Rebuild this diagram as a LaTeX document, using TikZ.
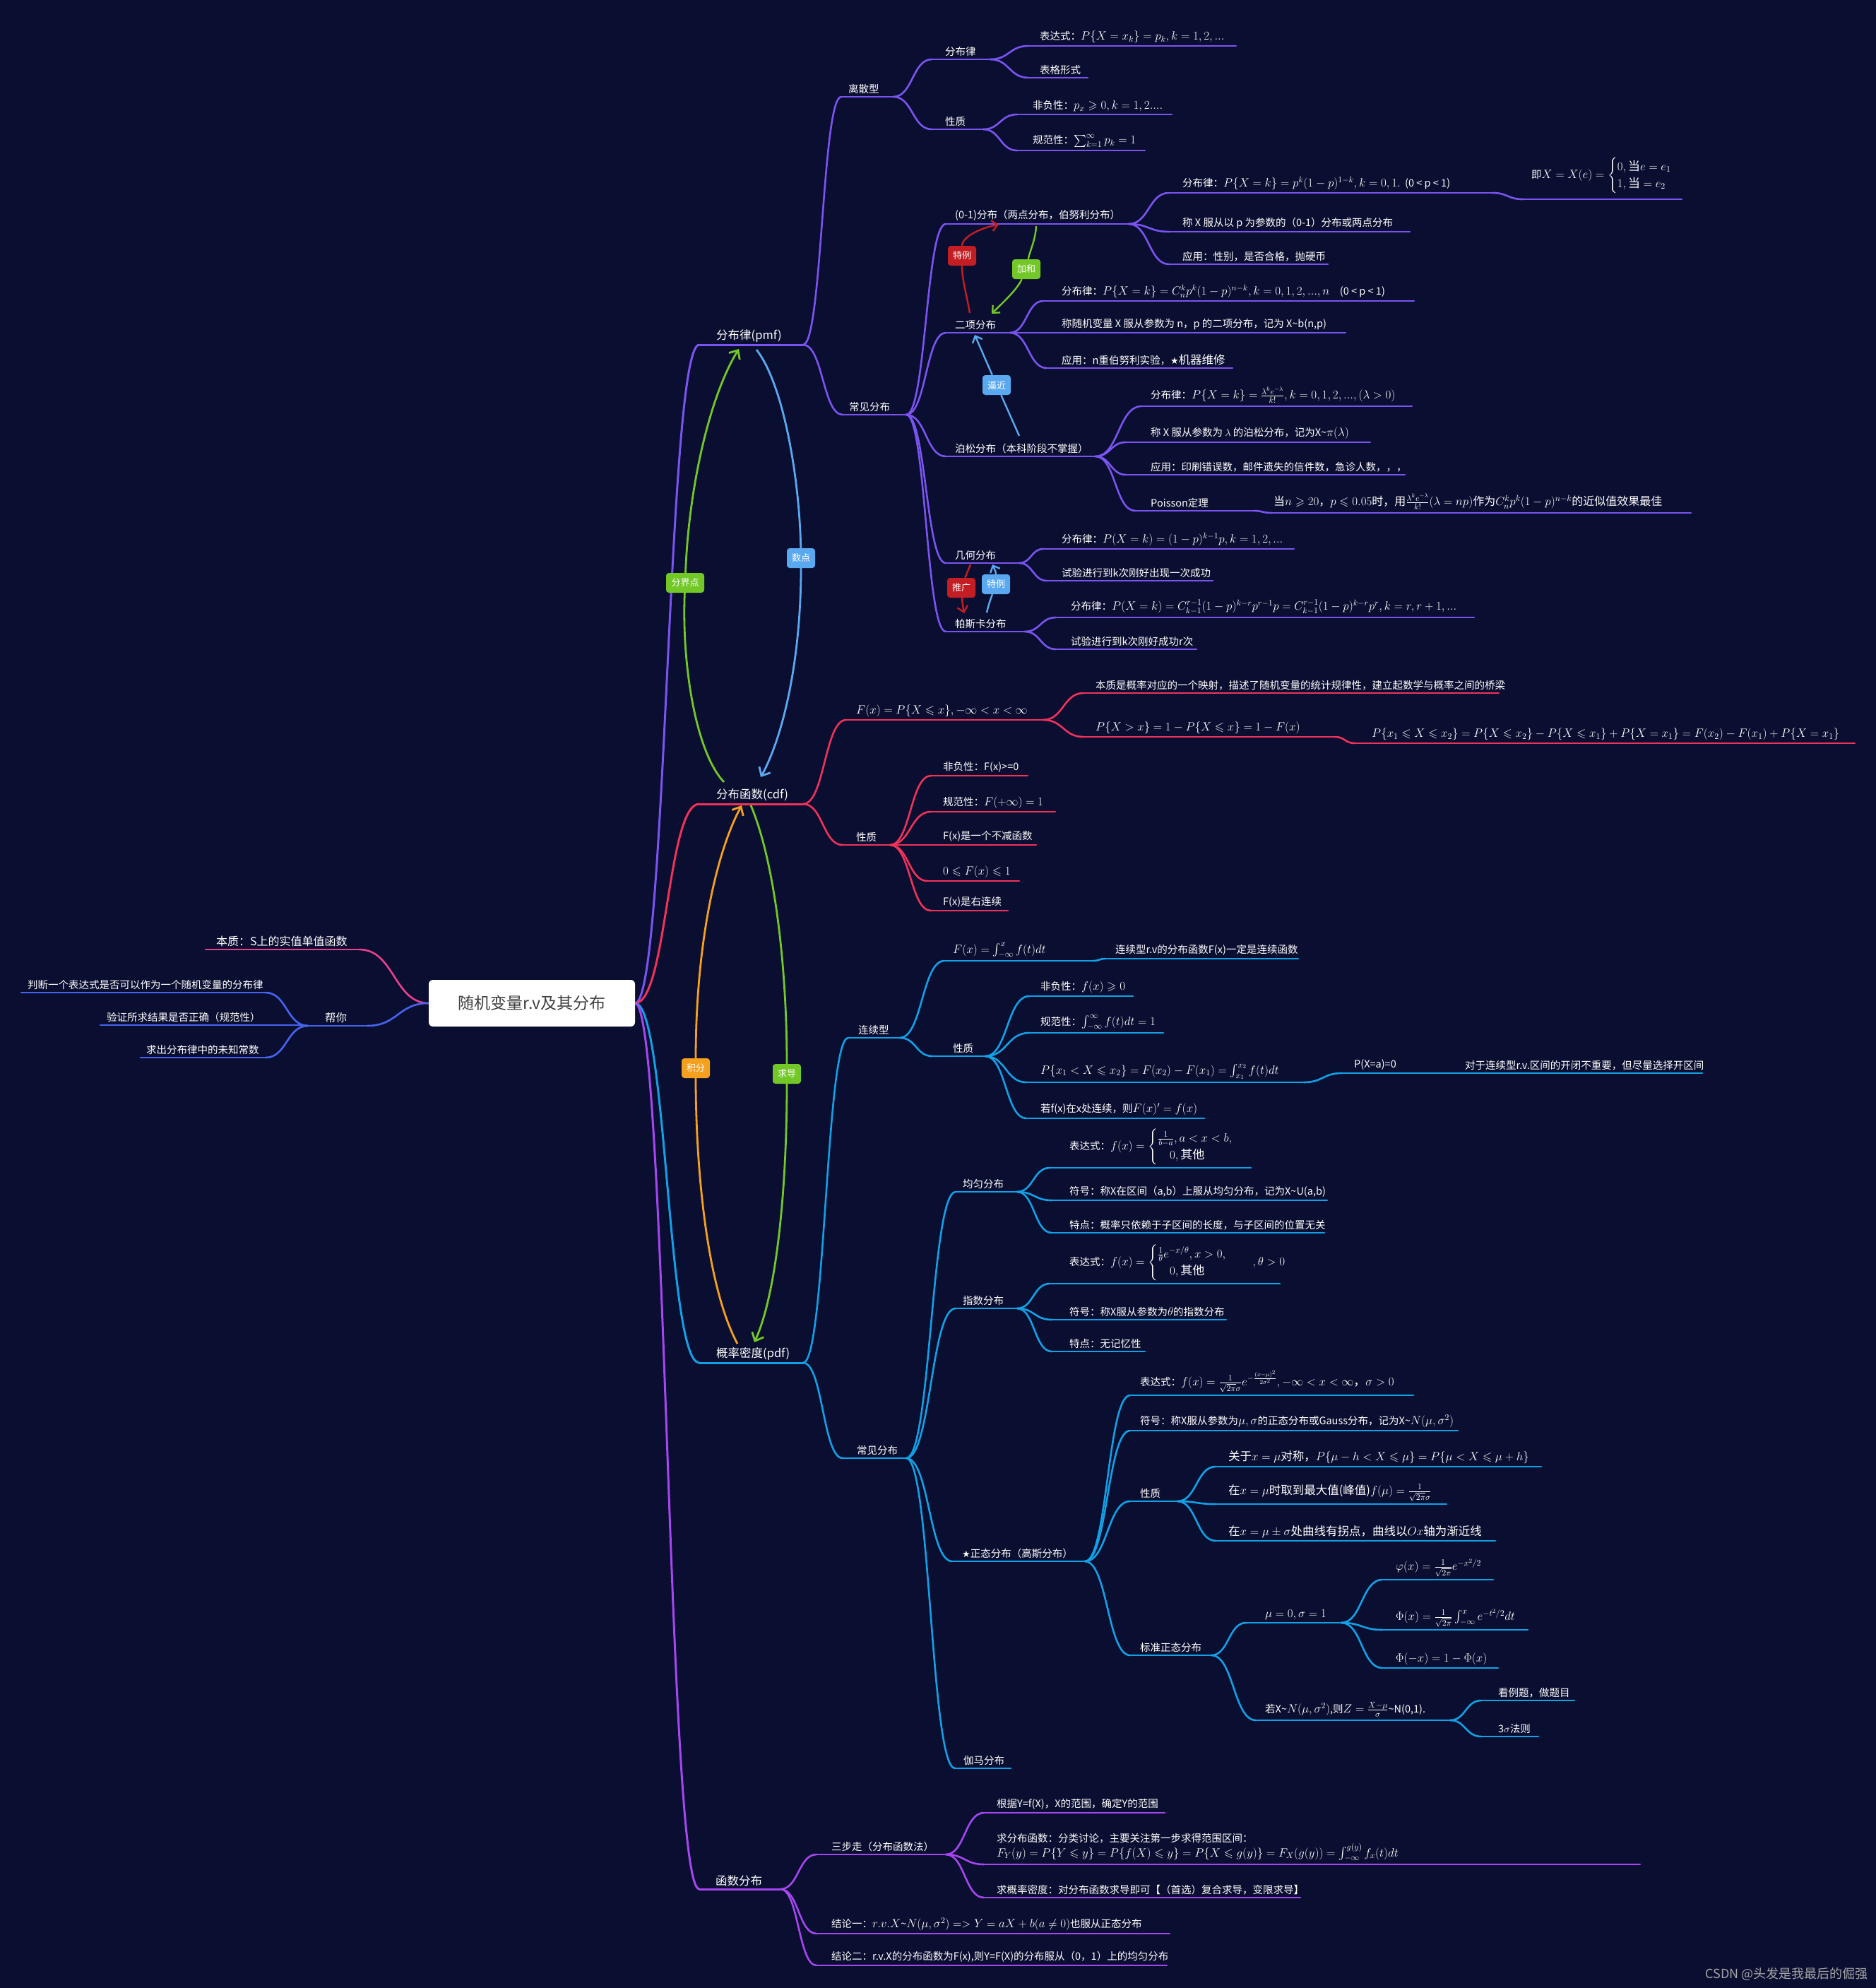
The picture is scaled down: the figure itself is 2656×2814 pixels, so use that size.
\RequirePackage{fix-cm}
\documentclass[tikz,border=0pt]{standalone}
\usepackage[no-math]{fontspec}
\setmainfont{Noto Sans CJK SC}
\newfontfamily\dejavu{DejaVu Sans}
\usepackage{amsmath,amssymb}
\usetikzlibrary{calc,arrows.meta}
\definecolor{bg}{RGB}{10,14,48}
\definecolor{cP}{RGB}{122,84,240}
\definecolor{cR}{RGB}{240,50,90}
\definecolor{cB}{RGB}{18,160,230}
\definecolor{cF}{RGB}{165,70,240}
\definecolor{cK}{RGB}{232,64,140}
\definecolor{cL}{RGB}{70,100,240}
\definecolor{tRed}{RGB}{195,30,35}
\definecolor{tGreen}{RGB}{115,200,40}
\definecolor{tBlue}{RGB}{90,168,240}
\definecolor{tOrange}{RGB}{245,160,30}
\newcommand\mth[1]{{\fontsize{17}{20}\selectfont$#1$}}
\newcommand\tld{\textasciitilde}
\newcommand\mnode[8][]{%
  \draw[ul=#6] (#3,#5) coordinate (#2-s) -- (#4,#5) coordinate (#2-e);
  \node[txt,#1] (#2) at (#7,#5-4) {#8};
}
\newcommand\brc[3]{\draw[#1] let \p1=(#2), \p2=(#3), \n1={0.5*(\x2-\x1)}, \n2={-0.5*(\x2-\x1)} in (\p1) .. controls +(\n1,0) and +(\n2,0) .. (\p2);}
\begin{document}
\begin{tikzpicture}[x=1pt,y=-1pt,
  ul/.style={draw=#1,line width=2.6pt,line cap=round},
  txt/.style={anchor=south west,inner sep=0pt,text=white,font=\fontsize{14.5}{17.5}\selectfont},
  mainf/.style={font=\fontsize{16.5}{19}\selectfont},
  tag/.style={fill=#1,rounded corners=4pt,text=white,font=\fontsize{13}{15}\selectfont,minimum height=28pt,minimum width=40pt,inner xsep=5pt,inner ysep=0pt},
  xl/.style={draw=#1,line width=2.4pt},
  xla/.style={draw=#1,line width=2.4pt,-{Straight Barb[length=8pt,width=15pt]}},
  xlb/.style={draw=#1,line width=2.8pt,-{Straight Barb[length=10pt,width=18pt]}},
]
\useasboundingbox (0,0) rectangle (2656,2814);
\fill[bg] (0,0) rectangle (2656,2814);
\coordinate (rootR) at (899,1420);
\coordinate (rootL) at (607,1420);

% ---------- left ----------
\mnode[font=\fontsize{16}{19}\selectfont]{bz0}{291}{509}{1344}{cK}{306}{本质：S上的实值单值函数}
\mnode[font=\fontsize{15.5}{18}\selectfont]{bn}{436}{520}{1452}{cL}{460}{帮你}
\mnode{pd}{30}{376}{1405}{cL}{39}{判断一个表达式是否可以作为一个随机变量的分布律}
\mnode{yz}{142}{424}{1451}{cL}{151}{验证所求结果是否正确（规范性）}
\mnode{qc}{199}{376}{1497}{cL}{207}{求出分布律中的未知常数}
\brc{ul=cK}{rootL}{bz0-e}
\brc{ul=cL}{rootL}{bn-e}
\brc{ul=cL}{bn-s}{pd-e}
\brc{ul=cL}{bn-s}{yz-e}
\brc{ul=cL}{bn-s}{qc-e}

% ---------- pmf ----------
\mnode[mainf]{pmf}{990}{1137}{488}{cP,line width=3pt}{1014}{分布律(pmf)}
\brc{ul=cP,line width=3pt}{rootR}{pmf-s}
\mnode{lsx}{1191}{1265}{137}{cP}{1201}{离散型}
\mnode{fbl}{1319}{1402}{84}{cP}{1338}{分布律}
\mnode{xz1}{1319}{1392}{183}{cP}{1338}{性质}
\mnode{bds}{1456}{1750}{65}{cP}{1472}{表达式：\mth{P\{X=x_k\}=p_k,k=1,2,...}}
\mnode{bgxs}{1456}{1540}{110}{cP}{1472}{表格形式}
\mnode{ffx1}{1440}{1659}{162}{cP}{1462}{非负性：\mth{p_x\geqslant 0,k=1,2....}}
\mnode{gfx1}{1440}{1621}{213}{cP}{1462}{规范性：\mth{\sum_{k=1}^{\infty}p_k=1}}
\brc{ul=cP}{pmf-e}{lsx-s}
\brc{ul=cP}{lsx-e}{fbl-s}
\brc{ul=cP}{lsx-e}{xz1-s}
\brc{ul=cP}{fbl-e}{bds-s}
\brc{ul=cP}{fbl-e}{bgxs-s}
\brc{ul=cP}{xz1-e}{ffx1-s}
\brc{ul=cP}{xz1-e}{gfx1-s}

\mnode{cjfb}{1193}{1283}{587}{cP}{1202}{常见分布}
\brc{ul=cP}{pmf-e}{cjfb-s}
\mnode{b01}{1339}{1598}{317}{cP}{1352}{(0-1)分布（两点分布，伯努利分布）}
\mnode{ex}{1339}{1430}{471}{cP}{1352}{二项分布}
\mnode{ps}{1339}{1551}{646}{cP}{1352}{泊松分布（本科阶段不掌握）}
\mnode{jh}{1339}{1443}{797}{cP}{1352}{几何分布}
\mnode{pk}{1339}{1451}{894}{cP}{1352}{帕斯卡分布}
\brc{ul=cP}{cjfb-e}{b01-s}
\brc{ul=cP}{cjfb-e}{ex-s}
\brc{ul=cP}{cjfb-e}{ps-s}
\brc{ul=cP}{cjfb-e}{jh-s}
\brc{ul=cP}{cjfb-e}{pk-s}

\mnode{b01a}{1655}{2113}{273}{cP}{1674}{分布律：\mth{P\{X=k\}=p^k(1-p)^{1-k},k=0,1.}\ \ (0 < p < 1)}
\mnode[yshift=4pt]{b01a2}{2156}{2381}{282}{cP}{2168}{即\mth{X=X(e)=\begin{cases}0,\text{当}e=e_1\\1,\text{当}=e_2\end{cases}}}
\mnode{b01b}{1655}{1996}{328}{cP}{1674}{称 X 服从以 p 为参数的（0-1）分布或两点分布}
\mnode{b01c}{1655}{1880}{374}{cP}{1674}{应用：性别，是否合格，抛硬币}
\brc{ul=cP}{b01-e}{b01a-s}
\brc{ul=cP}{b01a-e}{b01a2-s}
\brc{ul=cP}{b01-e}{b01b-s}
\brc{ul=cP}{b01-e}{b01c-s}

\mnode{exa}{1477}{2002}{426}{cP}{1503}{分布律：\mth{P\{X=k\}=C_n^kp^k(1-p)^{n-k},k=0,1,2,...,n}\quad (0 < p < 1)}
\mnode{exb}{1430}{1905}{471}{cP}{1503}{称随机变量 X 服从参数为 n，p 的二项分布，记为 X\tld b(n,p)}
\mnode{exc}{1482}{1745}{521}{cP}{1503}{应用：n重伯努利实验，{\dejavu\fontsize{13}{15}\selectfont ★}{\fontsize{16.5}{19}\selectfont 机器维修}}
\brc{ul=cP}{ex-e}{exa-s}
\brc{ul=cP}{ex-e}{exc-s}

\mnode{psa}{1616}{1999}{575}{cP}{1629}{分布律：\mth{P\{X=k\}=\frac{\lambda^ke^{-\lambda}}{k!},k=0,1,2,...,(\lambda>0)}}
\mnode{psb}{1594}{1940}{626}{cP}{1629}{称 X 服从参数为 $\lambda$ 的泊松分布，记为X\tld\mth{\pi(\lambda)}}
\mnode{psc}{1594}{1989}{672}{cP}{1629}{应用：印刷错误数，邮件遗失的信件数，急诊人数，，，}
\mnode{psd}{1607}{1775}{723}{cP}{1629}{Poisson定理}
\mnode[font=\fontsize{16}{19}\selectfont]{psd2}{1800}{2394}{726}{cP}{1803}{当\mth{n\geqslant 20}，\mth{p\leqslant 0.05}时，用\mth{\frac{\lambda^ke^{-\lambda}}{k!}(\lambda=np)}作为\mth{C_n^kp^k(1-p)^{n-k}}的近似值效果最佳}
\brc{ul=cP}{ps-e}{psa-s}
\brc{ul=cP}{ps-e}{psb-s}
\brc{ul=cP}{ps-e}{psc-s}
\brc{ul=cP}{ps-e}{psd-s}
\brc{ul=cP}{psd-e}{psd2-s}

\mnode{jha}{1477}{1832}{777}{cP}{1503}{分布律：\mth{P(X=k)=(1-p)^{k-1}p,k=1,2,...}}
\mnode{jhb}{1482}{1717}{822}{cP}{1503}{试验进行到k次刚好出现一次成功}
\brc{ul=cP}{jh-e}{jha-s}
\brc{ul=cP}{jh-e}{jhb-s}
\mnode{pka}{1495}{2087}{874}{cP}{1516}{分布律：\mth{P(X=k)=C_{k-1}^{r-1}(1-p)^{k-r}p^{r-1}p=C_{k-1}^{r-1}(1-p)^{k-r}p^r,k=r,r+1,...}}
\mnode{pkb}{1495}{1694}{919}{cP}{1516}{试验进行到k次刚好成功r次}
\brc{ul=cP}{pk-e}{pka-s}
\brc{ul=cP}{pk-e}{pkb-s}

% ---------- cdf ----------
\mnode[mainf]{cdf}{990}{1137}{1138}{cR,line width=3pt}{1014}{分布函数(cdf)}
\brc{ul=cR,line width=3pt}{rootR}{cdf-s}
\mnode{Fx}{1198}{1477}{1019}{cR}{1212}{\mth{F(x)=P\{X\leqslant x\},-\infty<x<\infty}}
\mnode{xz2}{1193}{1260}{1196}{cR}{1212}{性质}
\brc{ul=cR}{cdf-e}{Fx-s}
\brc{ul=cR}{cdf-e}{xz2-s}
\mnode{bz}{1534}{2122}{981}{cR}{1551}{本质是概率对应的一个映射，描述了随机变量的统计规律性，建立起数学与概率之间的桥梁}
\mnode{pgx}{1534}{1890}{1043}{cR}{1551}{\mth{P\{X>x\}=1-P\{X\leqslant x\}=1-F(x)}}
\mnode{pgx2}{1918}{2626}{1052}{cR}{1942}{\mth{P\{x_1\leqslant X\leqslant x_2\}=P\{X\leqslant x_2\}-P\{X\leqslant x_1\}+P\{X=x_1\}=F(x_2)-F(x_1)+P\{X=x_1\}}}
\brc{ul=cR}{Fx-e}{bz-s}
\brc{ul=cR}{Fx-e}{pgx-s}
\brc{ul=cR}{pgx-e}{pgx2-s}
\mnode{ffx2}{1318}{1455}{1098}{cR}{1335}{非负性：F(x)>=0}
\mnode{gfx2}{1318}{1494}{1149}{cR}{1335}{规范性：\mth{F(+\infty)=1}}
\mnode{bj}{1260}{1467}{1196}{cR}{1335}{F(x)是一个不减函数}
\mnode{fw}{1313}{1443}{1247}{cR}{1335}{\mth{0\leqslant F(x)\leqslant 1}}
\mnode{yl}{1318}{1427}{1289}{cR}{1335}{F(x)是右连续}
\brc{ul=cR}{xz2-e}{ffx2-s}
\brc{ul=cR}{xz2-e}{gfx2-s}
\brc{ul=cR}{xz2-e}{fw-s}
\brc{ul=cR}{xz2-e}{yl-s}

% ---------- pdf ----------
\mnode[mainf]{pdf}{990}{1137}{1929}{cB,line width=3pt}{1014}{概率密度(pdf)}
\brc{ul=cB,line width=3pt}{rootR}{pdf-s}
\mnode{lxx}{1201}{1274}{1469}{cB}{1215}{连续型}
\mnode{cj2}{1193}{1283}{2064}{cB}{1213}{常见分布}
\brc{ul=cB}{pdf-e}{lxx-s}
\brc{ul=cB}{pdf-e}{cj2-s}
\mnode{Fint}{1337}{1548}{1360}{cB}{1349}{\mth{F(x)=\int_{-\infty}^{x}f(t)dt}}
\mnode{Fint2}{1565}{1838}{1357}{cB}{1579}{连续型r.v的分布函数F(x)一定是连续函数}
\mnode{xz3}{1320}{1395}{1495}{cB}{1349}{性质}
\brc{ul=cB}{lxx-e}{Fint-s}
\brc{ul=cB}{Fint-e}{Fint2-s}
\brc{ul=cB}{lxx-e}{xz3-s}
\mnode{ffx3}{1457}{1604}{1410}{cB}{1473}{非负性：\mth{f(x)\geqslant 0}}
\mnode{gfx3}{1457}{1647}{1462}{cB}{1473}{规范性：\mth{\int_{-\infty}^{\infty}f(t)dt=1}}
\mnode{pint}{1453}{1846}{1532}{cB}{1473}{\mth{P\{x_1<X\leqslant x_2\}=F(x_2)-F(x_1)=\int_{x_1}^{x_2}f(t)dt}}
\mnode{pxa}{1900}{2060}{1519}{cB}{1917}{P(X=a)=0}
\mnode{pxa2}{2060}{2410}{1519}{cB}{2074}{对于连续型r.v.区间的开闭不重要，但尽量选择开区间}
\mnode{lxd}{1453}{1705}{1583}{cB}{1473}{若f(x)在x处连续，则\mth{F(x)'=f(x)}}
\brc{ul=cB}{xz3-e}{ffx3-s}
\brc{ul=cB}{xz3-e}{gfx3-s}
\brc{ul=cB}{xz3-e}{pint-s}
\brc{ul=cB}{xz3-e}{lxd-s}
\brc{ul=cB}{pint-e}{pxa-s}

\mnode{jy}{1353}{1440}{1687}{cB}{1363}{均匀分布}
\mnode{zs}{1353}{1440}{1852}{cB}{1363}{指数分布}
\mnode{zt}{1348}{1536}{2210}{cB}{1362}{{\dejavu\fontsize{13}{15}\selectfont ★}正态分布（高斯分布）}
\mnode{gm}{1352}{1431}{2503}{cB}{1364}{伽马分布}
\brc{ul=cB}{cj2-e}{jy-s}
\brc{ul=cB}{cj2-e}{zs-s}
\brc{ul=cB}{cj2-e}{zt-s}
\brc{ul=cB}{cj2-e}{gm-s}
\mnode{jya}{1486}{1771}{1653}{cB}{1514}{表达式：\mth{f(x)=\begin{cases}\frac{1}{b-a},a<x<b,\\\quad 0,\text{其他}\end{cases}}}
\mnode{jyb}{1489}{1879}{1699}{cB}{1514}{符号：称X在区间（a,b）上服从均匀分布，记为X\tld U(a,b)}
\mnode{jyc}{1489}{1875}{1745}{cB}{1514}{特点：概率只依赖于子区间的长度，与子区间的位置无关}
\brc{ul=cB}{jy-e}{jya-s}
\brc{ul=cB}{jy-e}{jyb-s}
\brc{ul=cB}{jy-e}{jyc-s}
\mnode{zsa}{1486}{1812}{1817}{cB}{1514}{表达式：\mth{f(x)=\begin{cases}\frac{1}{\theta}e^{-x/\theta},x>0,\\\quad 0,\text{其他}\end{cases}\quad,\theta>0}}
\mnode{zsb}{1489}{1736}{1868}{cB}{1514}{符号：称X服从参数为\mth{\theta}的指数分布}
\mnode{zsc}{1489}{1621}{1913}{cB}{1514}{特点：无记忆性}
\brc{ul=cB}{zs-e}{zsa-s}
\brc{ul=cB}{zs-e}{zsb-s}
\brc{ul=cB}{zs-e}{zsc-s}

\mnode{zta}{1600}{2001}{1975}{cB}{1614}{表达式：\mth{f(x)=\frac{1}{\sqrt{2\pi}\sigma}e^{-\frac{(x-\mu)^2}{2\sigma^2}},-\infty<x<\infty\text{，}\sigma>0}}
\mnode{ztb}{1600}{2064}{2025}{cB}{1614}{符号：称X服从参数为\mth{\mu,\sigma}的正态分布或Gauss分布，记为X\tld\mth{N(\mu,\sigma^2)}}
\mnode{ztc}{1600}{1667}{2125}{cB}{1614}{性质}
\mnode{ztd}{1600}{1715}{2343}{cB}{1614}{标准正态分布}
\brc{ul=cB}{zt-e}{zta-s}
\brc{ul=cB}{zt-e}{ztb-s}
\brc{ul=cB}{zt-e}{ztc-s}
\brc{ul=cB}{zt-e}{ztd-s}
\mnode[font=\fontsize{16.5}{19}\selectfont]{ztc1}{1721}{2182}{2076}{cB}{1739}{关于\mth{x=\mu}对称，\mth{P\{\mu-h<X\leqslant\mu\}=P\{\mu<X\leqslant\mu+h\}}}
\mnode[font=\fontsize{16.5}{19}\selectfont]{ztc2}{1721}{2048}{2129}{cB}{1739}{在\mth{x=\mu}时取到最大值(峰值)\mth{f(\mu)=\frac{1}{\sqrt{2\pi}\sigma}}}
\mnode[font=\fontsize{16.5}{19}\selectfont]{ztc3}{1721}{2117}{2181}{cB}{1739}{在\mth{x=\mu\pm\sigma}处曲线有拐点，曲线以\mth{Ox}轴为渐近线}
\brc{ul=cB}{ztc-e}{ztc1-s}
\brc{ul=cB}{ztc-e}{ztc2-s}
\brc{ul=cB}{ztc-e}{ztc3-s}
\mnode{ztd1}{1764}{1899}{2297}{cB}{1791}{\mth{\mu=0,\sigma=1}}
\mnode{ztd2}{1778}{2053}{2435}{cB}{1791}{若X\tld\mth{N(\mu,\sigma^2)},则\mth{Z=\frac{X-\mu}{\sigma}}\tld N(0,1).}
\brc{ul=cB}{ztd-e}{ztd1-s}
\brc{ul=cB}{ztd-e}{ztd2-s}
\mnode{phi1}{1957}{2114}{2236}{cB}{1976}{\mth{\varphi(x)=\frac{1}{\sqrt{2\pi}}e^{-x^2/2}}}
\mnode{phi2}{1957}{2163}{2307}{cB}{1976}{\mth{\Phi(x)=\frac{1}{\sqrt{2\pi}}\int_{-\infty}^{x}e^{-t^2/2}dt}}
\mnode{phi3}{1957}{2121}{2361}{cB}{1976}{\mth{\Phi(-x)=1-\Phi(x)}}
\brc{ul=cB}{ztd1-e}{phi1-s}
\brc{ul=cB}{ztd1-e}{phi2-s}
\brc{ul=cB}{ztd1-e}{phi3-s}
\mnode{kl}{2097}{2229}{2407}{cB}{2121}{看例题，做题目}
\mnode{sg}{2097}{2178}{2458}{cB}{2121}{3$\sigma$法则}
\brc{ul=cB}{ztd2-e}{kl-s}
\brc{ul=cB}{ztd2-e}{sg-s}

% ---------- function distribution ----------
\mnode[mainf]{hs}{990}{1105}{2674}{cF,line width=3pt}{1013}{函数分布}
\brc{ul=cF,line width=3pt}{rootR}{hs-s}
\mnode{sbz}{1156}{1339}{2625}{cF}{1177}{三步走（分布函数法）}
\mnode{jl1}{1156}{1656}{2737}{cF}{1177}{结论一：\mth{r.v.X}\tld\mth{N(\mu,\sigma^2)=>Y=aX+b(a\neq 0)}也服从正态分布}
\mnode{jl2}{1156}{1652}{2782}{cF}{1177}{结论二：r.v.X的分布函数为F(x),则Y=F(X)的分布服从（0，1）上的均匀分布}
\brc{ul=cF}{hs-e}{sbz-s}
\brc{ul=cF}{hs-e}{jl1-s}
\brc{ul=cF}{hs-e}{jl2-s}
\mnode{sb1}{1393}{1649}{2566}{cF}{1411}{根据Y=f(X)，X的范围，确定Y的范围}
\mnode[align=left]{sb2}{1393}{2322}{2639}{cF}{1411}{求分布函数：分类讨论，主要关注第一步求得范围区间：\\\mth{F_Y(y)=P\{Y\leqslant y\}=P\{f(X)\leqslant y\}=P\{X\leqslant g(y)\}=F_X(g(y))=\int_{-\infty}^{g(y)}f_x(t)dt}}
\mnode{sb3}{1393}{1841}{2686}{cF}{1411}{求概率密度：对分布函数求导即可【（首选）复合求导，变限求导】}
\brc{ul=cF}{sbz-e}{sb1-s}
\brc{ul=cF}{sbz-e}{sb2-s}
\brc{ul=cF}{sbz-e}{sb3-s}

% ---------- root ----------
\node[fill=white,rounded corners=6pt,minimum width=292pt,minimum height=66pt,text=black!75,font=\fontsize{23}{26}\selectfont] (root) at (753,1420) {随机变量r.v及其分布};

% ---------- cross links (small) ----------
\node[tag=tRed] (tl1) at (1362,362) {特例};
\node[tag=tGreen] (tl2) at (1453,381) {加和};
\node[tag=tBlue] (tl3) at (1411,545) {逼近};
\node[tag=tRed] (tl4) at (1361,832) {推广};
\node[tag=tBlue] (tl5) at (1410,827) {特例};
\coordinate (x1s) at (1373,443); \coordinate (x1e) at (1414,318);
\coordinate (x2s) at (1467,320); \coordinate (x2e) at (1404,444);
\coordinate (x3s) at (1443,617); \coordinate (x3e) at (1380,474);
\coordinate (x4s) at (1374,799); \coordinate (x4e) at (1365,868);
\coordinate (x5s) at (1397,867); \coordinate (x5e) at (1405,799);
\draw[xl=tRed] (x1s) .. controls (1368,415) and (1362,395) .. (tl1);
\draw[xla=tRed] (tl1) .. controls (1362,335) and (1390,322) .. (x1e);
\draw[xl=tGreen] (x2s) .. controls (1466,340) and (1458,355) .. (tl2);
\draw[xla=tGreen] (tl2) .. controls (1440,410) and (1420,428) .. (x2e);
\draw[xl=tBlue] (x3s) -- (tl3);
\draw[xla=tBlue] (tl3) -- (x3e);
\draw[xl=tRed] (x4s) .. controls (1370,808) .. (tl4);
\draw[xla=tRed] (tl4) .. controls (1362,856) .. (x4e);
\draw[xl=tBlue] (x5s) .. controls (1400,855) .. (tl5);
\draw[xla=tBlue] (tl5) .. controls (1410,810) .. (x5e);

% ---------- cross links (big) ----------
\node[tag=tGreen,minimum width=54pt] (tb1) at (970,825) {分界点};
\node[tag=tBlue] (tb2) at (1134,790) {数点};
\node[tag=tOrange] (tb3) at (985,1512) {积分};
\node[tag=tGreen] (tb4) at (1114,1520) {求导};
\coordinate (y1s) at (1025,1107); \coordinate (y1e) at (1046,494);
\coordinate (y2s) at (1071,495); \coordinate (y2e) at (1077,1100);
\coordinate (y3s) at (1044,1902); \coordinate (y3e) at (1050,1140);
\coordinate (y4s) at (1063,1140); \coordinate (y4e) at (1068,1900);
\draw[xl=tGreen,line width=2.8pt] (y1s) .. controls (985,1065) and (965,940) .. (tb1);
\draw[xlb=tGreen] (tb1) .. controls (975,690) and (1005,560) .. (y1e);
\draw[xl=tBlue,line width=2.8pt] (y2s) .. controls (1110,545) and (1132,680) .. (tb2);
\draw[xlb=tBlue] (tb2) .. controls (1134,930) and (1110,1040) .. (y2e);
\draw[xl=tOrange,line width=2.8pt] (y3s) .. controls (1000,1820) and (985,1650) .. (tb3);
\draw[xlb=tOrange] (tb3) .. controls (985,1350) and (1010,1215) .. (y3e);
\draw[xl=tGreen,line width=2.8pt] (y4s) .. controls (1097,1220) and (1114,1370) .. (tb4);
\draw[xlb=tGreen] (tb4) .. controls (1114,1680) and (1100,1830) .. (y4e);

\node[anchor=east,inner sep=0pt,text=black!35,font=\fontsize{18}{20}\selectfont] (wm) at (2645,2794) {CSDN @头发是我最后的倔强};
\end{tikzpicture}
\end{document}
